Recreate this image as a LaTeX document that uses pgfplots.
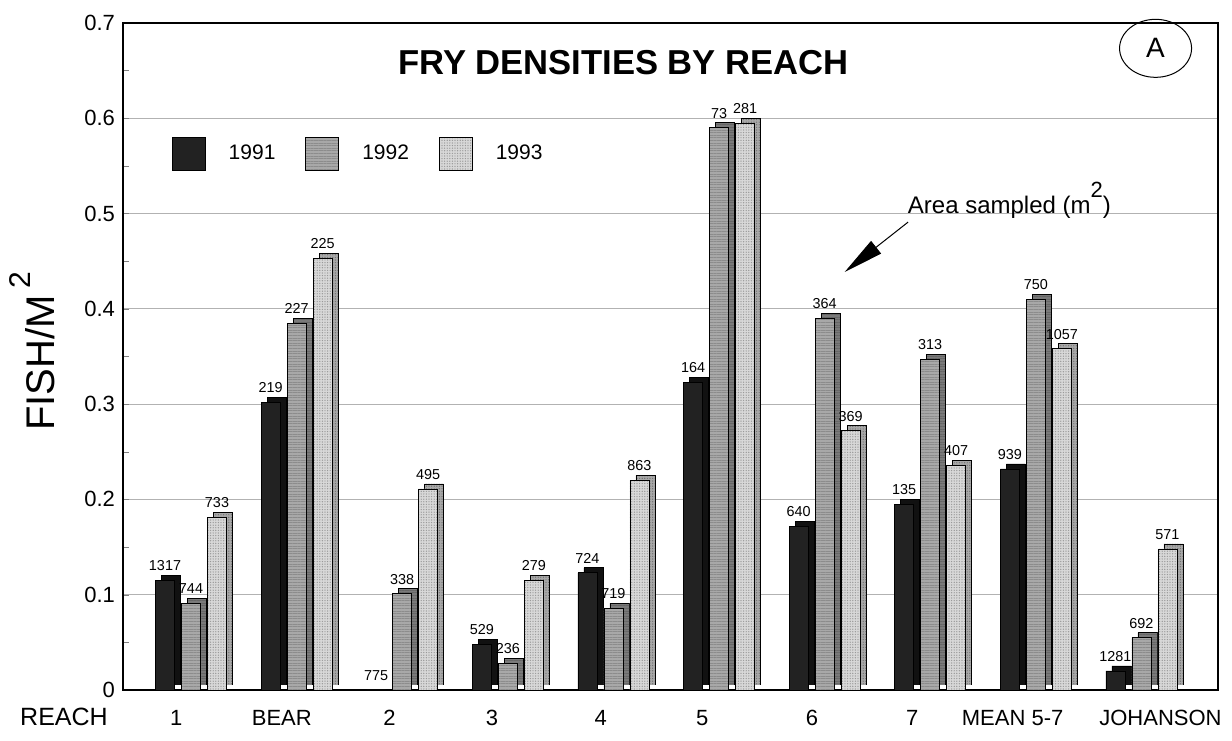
\documentclass[border=0pt]{standalone}
\usepackage{pgfplots}
\pgfplotsset{compat=1.18}
\usepackage{pgfplotstable}
\usepackage{fontspec}
\setmainfont{Liberation Sans}
\usetikzlibrary{patterns.meta,arrows.meta,shapes.geometric}

\definecolor{cA}{HTML}{222222}
\definecolor{cAs}{HTML}{111111}
\definecolor{cB}{HTML}{A8A8A8}
\definecolor{cBs}{HTML}{7A7A7A}
\definecolor{cC}{HTML}{D8D8D8}
\definecolor{cCs}{HTML}{A8A8A8}

\pgfplotstableread{
x y lab
0 0.115 1317
1 0.302 219
2 0.000 775
3 0.048 529
4 0.123 724
5 0.323 164
6 0.172 640
7 0.195 135
8 0.232 939
9 0.020 1281
}\tA
\pgfplotstableread{
x y lab
0 0.091 744
1 0.385 227
2 0.101 338
3 0.028 236
4 0.086 719
5 0.590 73
6 0.390 364
7 0.347 313
8 0.410 750
9 0.055 692
}\tB
\pgfplotstableread{
x y lab
0 0.181 733
1 0.453 225
2 0.211 495
3 0.115 279
4 0.220 863
5 0.595 281
6 0.272 369
7 0.236 407
8 0.358 1057
9 0.148 571
}\tC

\pgfplotsset{
  sq/.style={legend image code/.code={\draw[##1] (0pt,-8.25pt) rectangle (16.5pt,8.25pt);}},
  backbar/.style={ybar, bar width=9.5pt, bar shift=#1, xshift=3pt, yshift=2.5pt, draw=black, line width=0.4pt, forget plot, restrict y to domain=0.001:1},
  frontbar/.style={ybar, bar width=9.5pt, bar shift=#1, draw=black, line width=0.4pt, sq,
     nodes near coords, point meta=explicit symbolic,
     every node near coord/.append style={font=\fontsize{7.2}{8}\selectfont, inner sep=1pt, xshift=#1, yshift=3.5pt, black}},
}

\begin{document}
\begin{tikzpicture}
\begin{axis}[
  name=ax,
  scale only axis,
  width=547.5pt, height=333.5pt,
  xmin=-0.644, xmax=9.725,
  ymin=0, ymax=0.7,
  ytick={0,0.1,...,0.71},
  minor y tick num=1,
  ytick pos=left,
  tick align=inside,
  major tick length=3pt, minor tick length=3pt,
  ymajorgrids,
  grid style={black!30, line width=0.4pt},
  yticklabel={\pgfmathprintnumber[fixed,precision=1]{\tick}},
  /pgf/number format/assume math mode=true,
  yticklabel style={font=\fontsize{11}{12}\selectfont, xshift=-0.5pt},
  xtick={-0.14,0.86,1.88,2.85,3.88,4.84,5.88,6.83,7.78},
  xticklabels={1,BEAR,2,3,4,5,6,7,MEAN 5-7},
  extra x ticks={9.18},
  extra x tick labels={JOHANSON},
  xtick style={draw=none},
  extra x tick style={xtick style={draw=none}, grid=none},
  xticklabel style={font=\fontsize{11}{12}\selectfont, anchor=base, yshift=-18pt},
  ylabel={FISH/M\,\raisebox{0.6em}{\fontsize{15}{15}\selectfont 2}},
  ylabel style={font=\fontsize{20}{22}\selectfont, at={(axis description cs:-0.083,0.508)}, anchor=center, rotate=0},
  axis line style={black, line width=0.6pt},
  clip mode=individual,
  legend style={at={(0.0447,0.829)}, anchor=north west, draw=none, fill=none,
     inner sep=0pt, outer sep=0pt, font=\fontsize{10.5}{12}\selectfont,
     legend columns=3,
     nodes={inner sep=0pt},
     /tikz/every odd column/.append style={column sep=11.5pt},
     /tikz/every even column/.append style={column sep=15pt}},
  legend cell align=left,
]
% 1991
\addplot[backbar=-13pt, fill=cAs] table[x=x,y=y]{\tA};
\addplot[frontbar=-13pt, fill=cA] table[x=x,y=y,meta=lab]{\tA};
\addlegendentry{1991}
% 1992
\addplot[backbar=0pt, fill=cBs, postaction={pattern={Lines[angle=0,distance=1.3pt,line width=0.35pt]}, pattern color=black!60}] table[x=x,y=y]{\tB};
\addplot[frontbar=0pt, fill=cB, postaction={pattern={Lines[angle=0,distance=1.3pt,line width=0.35pt]}, pattern color=black!45}] table[x=x,y=y,meta=lab]{\tB};
\addlegendentry{1992}
% 1993
\addplot[backbar=13pt, fill=cCs, postaction={pattern={Dots[distance=1.3pt,radius=0.35pt]}, pattern color=black!55}] table[x=x,y=y]{\tC};
\addplot[frontbar=13pt, fill=cC, postaction={pattern={Dots[distance=1.3pt,radius=0.35pt]}, pattern color=black!40}] table[x=x,y=y,meta=lab]{\tC};
\addlegendentry{1993}

\node[font=\bfseries\fontsize{17.3}{19}\selectfont] at (rel axis cs:0.457,0.94) {FRY DENSITIES BY REACH};
\node[draw, ellipse, line width=0.5pt, minimum width=36pt, minimum height=29pt, inner sep=0pt, font=\fontsize{14}{15}\selectfont] at (rel axis cs:0.943,0.962) {A};
\node[font=\fontsize{12}{13}\selectfont] at (axis cs:7.75,0.514) {Area sampled (m\raisebox{0.65em}{\fontsize{11}{11}\selectfont 2})};
\draw[line width=0.5pt, -{Triangle[length=20pt,width=8pt]}] (axis cs:6.79,0.491) -- (axis cs:6.19,0.4387);
\end{axis}
\node[font=\fontsize{12.5}{14}\selectfont, anchor=base] at ([xshift=-29.5pt,yshift=-18pt]ax.south west) {REACH};
\path ([xshift=-61.5pt,yshift=-25.5pt]ax.south west) rectangle ([xshift=7pt,yshift=11.5pt]ax.north east);
\end{tikzpicture}
\end{document}
